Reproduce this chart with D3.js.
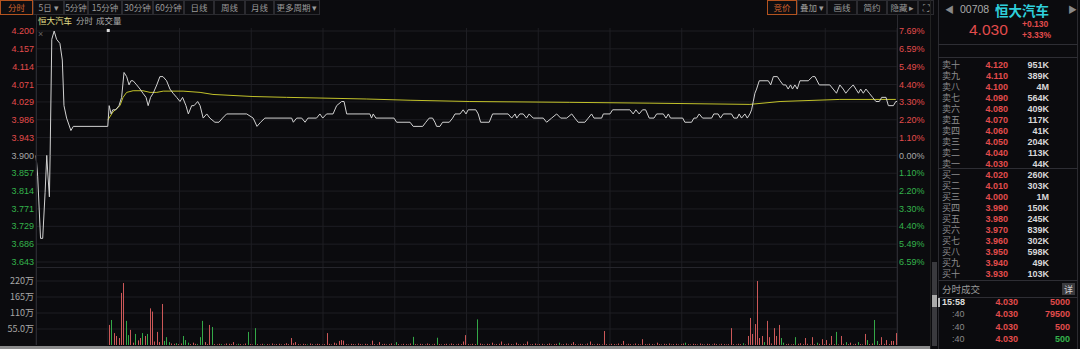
<!DOCTYPE html>
<html>
<head>
<meta charset="utf-8">
<script src="https://cdn.jsdelivr.net/npm/d3@7"></script>
<style>
  body { margin: 0; background: #0b0b0e; overflow: hidden; }
  text { font-family: "Liberation Sans", "Noto Sans CJK SC", sans-serif; }
  .cjk { font-family: "Noto Sans CJK SC", sans-serif; }
</style>
</head>
<body>
<script>
// ---- data ----
const prevClose = 3.900;
const priceTicks = [4.200, 4.157, 4.114, 4.071, 4.029, 3.986, 3.943, 3.900, 3.857, 3.814, 3.771, 3.729, 3.686, 3.643];
const pctLabels = ["7.69%","6.59%","5.49%","4.40%","3.30%","2.20%","1.10%","0.00%","1.10%","2.20%","3.30%","4.40%","5.49%","6.59%"];
const volTicks = [55, 110, 165, 220];
const volLabels = ["55.0万","110万","165万","220万"];

// price line vertices: [minute since 09:00 (lunch removed), price]
const priceLine = [
  [0,3.90],[0.7,3.85],[1.9,3.70],[2.8,3.70],[3.8,3.81],[4.5,3.90],[4.9,3.86],[5.6,3.80],[5.9,3.90],
  [6.6,4.18],[7.6,4.20],[8.6,4.18],[10,4.17],[11,4.13],[11.7,4.02],[12.8,3.99],[14.6,3.96],[15.6,3.97],
  [30,3.97],[30.6,4.02],[31.4,4.00],[32.1,4.01],[33.4,4.01],[34.7,4.02],[35.8,4.04],[36.8,4.10],[37.9,4.09],
  [38.9,4.07],[39.7,4.08],[40.6,4.08],[42.1,4.07],[43.5,4.06],[44.7,4.05],[46,4.04],[46.9,4.02],[47.9,4.04],
  [49,4.05],[50.5,4.07],[51.8,4.09],[53.1,4.09],[54.6,4.08],[56,4.06],[57.3,4.05],[58.8,4.04],[60.2,4.03],
  [61.3,4.04],[62.7,4.02],[63.7,4.00],[65.1,4.02],[66.1,4.02],[67.6,4.03],[68.6,4.02],[69.9,3.99],[71.4,4.00],
  [72.7,3.99],[74.8,3.98],[76.5,3.98],[78,3.99],[79.7,4.00],[88.1,4.00],[90.8,3.99],[92.4,3.97],[93.9,3.98],
  [95.7,3.99],[106.9,3.99],[107.6,3.98],[109,3.99],[111.1,3.99],[112.5,3.98],[113.7,3.99],[117.3,3.99],
  [118.7,4.00],[119.9,3.99],[121.5,4.00],[124.2,4.00],[125.7,4.02],[127.8,4.03],[128.8,4.03],[129.9,4.00],
  [139.6,4.00],[140.3,3.99],[141,4.00],[142.1,3.99],[149.7,3.99],[150.8,3.98],[156.4,3.98],[157.7,3.97],
  [161.7,3.97],[163,3.98],[164.4,3.99],[165.8,3.99],[166.8,3.98],[167.5,3.97],[168.9,3.97],[170,3.98],
  [172.8,3.98],[174.2,3.99],[175.2,4.00],[177.3,4.00],[178.6,4.01],[179.8,4.00],[180.7,4.01],[183.9,4.01],
  [184.9,4.00],[185.9,3.98],[189.5,3.98],[190.9,4.00],[197.4,4.00],[198.9,3.99],[200.3,4.00],[201,3.99],
  [202.3,4.00],[203.7,4.00],[205.1,3.99],[206.2,4.00],[207.9,3.99],[212.1,3.99],[213.5,3.98],[215.6,3.99],
  [217.7,4.00],[219.4,3.99],[221.9,3.99],[224,4.00],[225.3,3.99],[226.7,3.98],[229.5,3.98],[230.9,3.99],
  [232.3,4.00],[233.3,3.99],[236.5,3.99],[237.2,4.00],[240,4.00],[241.1,4.01],[248.3,4.01],[249.7,4.00],
  [250.8,4.01],[252.2,4.00],[253.6,4.01],[254.9,4.01],[256.4,3.99],[258.4,3.99],[259.5,4.00],[262.3,4.00],
  [263.4,3.99],[264.4,4.00],[265.3,3.99],[270.4,3.99],[271.3,3.98],[274.1,3.98],[275.1,3.99],[276.2,3.99],
  [277.3,4.00],[278.7,3.99],[282.5,3.99],[283.4,4.00],[285.2,4.00],[286.2,3.99],[287.4,4.00],[290.8,4.00],
  [291.8,3.99],[293.2,3.99],[294,4.00],[295,3.99],[296.4,4.00],[297.4,3.99],[298.5,4.00],[299.2,4.01],
  [299.9,4.03],[300.6,4.05],[301.3,4.06],[302.4,4.08],[306.2,4.08],[307.2,4.07],[308.3,4.09],[310,4.09],
  [311.1,4.08],[312.4,4.07],[313.5,4.07],[314.5,4.06],[315.5,4.07],[316.3,4.06],[317.3,4.07],[318.3,4.06],
  [319.4,4.08],[322.9,4.08],[324.7,4.09],[325.7,4.09],[327.5,4.07],[331.9,4.07],[333.3,4.06],[334.7,4.05],
  [336.1,4.07],[337.5,4.06],[338.6,4.05],[340,4.06],[341.7,4.07],[342.8,4.06],[343.9,4.05],[344.8,4.06],
  [345.9,4.05],[347,4.06],[348.4,4.05],[349.8,4.04],[351.2,4.03],[352.6,4.03],[353.6,4.04],[355.4,4.04],
  [356.4,4.02],[358.5,4.02],[359.5,4.03],[360,4.03]
];

// average price line vertices
const avgLine = [
  [30,3.985],[32.2,4.005],[35.1,4.02],[36.4,4.04],[37.9,4.052],[40.6,4.056],[44.7,4.056],[47.7,4.052],
  [50.5,4.052],[53.2,4.055],[61.5,4.055],[68.6,4.052],[74,4.047],[90.7,4.042],[104.8,4.04],[138.3,4.036],
  [156.4,4.033],[181.4,4.03],[223.2,4.028],[256.7,4.026],[298.5,4.023],[311.1,4.03],[336.1,4.035],[359.5,4.035]
];

// volume per minute from 09:30, in 万 shares; negative = down minute (green)
const volumes = [
  69,-86,41,31,24,179,213,-83,-34,52,
  8,-38,16,24,-41,31,-38,126,115,12,
  45,10,141,-14,-27,-10,5,4,-6,3,
  5,-31,-17,-8,3,8,4,-3,-27,-83,
  10,3,69,-62,3,2,4,-3,2,5,
  4,3,10,2,-4,3,2,5,-45,3,
  2,-58,3,2,4,-2,3,2,5,2,
  3,4,2,3,6,3,24,6,10,3,
  2,4,3,-2,5,3,2,4,3,2,
  3,41,4,2,8,5,14,17,15,3,
  2,4,3,2,5,3,2,4,3,2,
  15,3,2,10,3,4,2,3,5,2,
  -10,3,2,4,3,2,5,-28,3,2,
  4,3,2,5,3,2,4,-25,3,2,
  3,4,2,5,3,2,4,3,12,34,
  3,2,4,3,-88,5,3,2,4,3,
  8,2,3,4,12,3,2,5,3,2,
  8,3,2,4,3,12,2,3,5,2,
  3,4,2,3,5,2,3,4,-8,2,
  3,5,2,4,10,3,2,4,3,2,
  5,12,3,2,4,3,2,48,3,2,
  4,3,2,5,3,14,2,4,3,2,
  5,3,2,20,3,2,4,3,2,8,
  3,2,4,3,5,2,3,4,2,3,
  5,-8,3,2,4,3,2,5,3,2,
  4,3,2,5,3,2,4,3,2,3,
  58,3,2,4,3,-6,2,31,93,38,
  72,220,24,31,-10,83,27,5,58,31,
  69,-24,-8,3,4,2,3,-27,4,6,
  3,24,4,2,27,3,-8,4,20,3,
  17,4,31,3,-45,2,31,4,-10,3,
  8,2,4,-10,3,2,38,-17,3,5,
  -86,-14,3,27,4,17,3,14,14,41
];

const periods = ["分时","5日 ▾","5分钟","15分钟","30分钟","60分钟","日线","周线","月线","更多周期 ▾"];
const periodEdges = [0,33,64,88,122,153,184,214,245,274,320];
const tools = ["竞价","叠加 ▾","画线","简约","隐藏 ▸","⛶"];
const toolEdges = [767,797,827,857,887,918,934];

const stock = { code: "00708", name: "恒大汽车", last: "4.030", chg: "+0.130", pct: "+3.33%" };
const askLabels = ["卖十","卖九","卖八","卖七","卖六","卖五","卖四","卖三","卖二","卖一"];
const askPrices = ["4.120","4.110","4.100","4.090","4.080","4.070","4.060","4.050","4.040","4.030"];
const askVols = ["951K","389K","4M","564K","409K","117K","41K","204K","113K","44K"];
const bidLabels = ["买一","买二","买三","买四","买五","买六","买七","买八","买九","买十"];
const bidPrices = ["4.020","4.010","4.000","3.990","3.980","3.970","3.960","3.950","3.940","3.930"];
const bidVols = ["260K","303K","1M","150K","245K","839K","302K","598K","49K","103K"];
const tradeTimes = ["15:58",":40",":40",":40"];
const tradePrices = ["4.030","4.030","4.030","4.030"];
const tradeVols = ["5000","79500","500","500"];
const tradeSides = ["up","up","up","down"];

// ---- colours ----
const BG = "#0b0b0e", GRID = "#1e1e23", RED = "#e24c4c", GREEN = "#34b34c", GRAY = "#a8a8a8";

const svg = d3.select("body").append("svg").attr("width", 1080).attr("height", 349);
svg.append("rect").attr("width", 1080).attr("height", 349).attr("fill", BG);

const x = d3.scaleLinear().domain([0, 360]).range([36, 897]);
const y = d3.scaleLinear().domain([3.643, 4.200]).range([262, 31]);
const yv = d3.scaleLinear().domain([0, 220]).range([345, 281]);

// grid
const grid = svg.append("g");
grid.selectAll("line.h").data(priceTicks).join("line")
  .attr("x1", 36).attr("x2", 897).attr("y1", d => y(d)).attr("y2", d => y(d))
  .attr("stroke", GRID);
grid.selectAll("line.v").data(d3.range(0, 361, 30)).join("line").attr("class", "v")
  .attr("x1", d => x(d)).attr("x2", d => x(d)).attr("y1", 28).attr("y2", 345)
  .attr("stroke", GRID);
grid.selectAll("line.vh").data(volTicks).join("line").attr("class", "vh")
  .attr("x1", 36).attr("x2", 897).attr("y1", d => yv(d)).attr("y2", d => yv(d))
  .attr("stroke", GRID);
svg.append("line").attr("x1", 36).attr("x2", 897).attr("y1", 267.5).attr("y2", 267.5).attr("stroke", "#26262c");

// left price labels
svg.append("g").selectAll("text").data(priceTicks).join("text")
  .attr("x", 34).attr("y", d => y(d)).attr("dy", "0.35em")
  .attr("text-anchor", "end").attr("font-size", 9)
  .attr("fill", d => Math.abs(d - prevClose) < 1e-6 ? GRAY : (d > prevClose ? RED : GREEN))
  .text(d => d.toFixed(3));

// right percent labels
svg.append("g").selectAll("text").data(priceTicks).join("text")
  .attr("x", 899).attr("y", d => y(d)).attr("dy", "0.35em")
  .attr("font-size", 9)
  .attr("fill", d => Math.abs(d - prevClose) < 1e-6 ? GRAY : (d > prevClose ? RED : GREEN))
  .text((d, i) => pctLabels[i]);

// volume labels
svg.append("g").selectAll("text").data(volTicks).join("text")
  .attr("x", 34).attr("y", d => yv(d)).attr("dy", "0.35em")
  .attr("text-anchor", "end").attr("font-size", 9).attr("fill", GRAY)
  .attr("class", "cjk")
  .text((d, i) => volLabels[i]);

// volume bars
svg.append("g").selectAll("rect").data(volumes).join("rect")
  .attr("x", (d, i) => Math.round(x(30 + i + 0.5)))
  .attr("width", 1)
  .attr("y", d => yv(Math.abs(d)))
  .attr("height", d => yv(0) - yv(Math.abs(d)))
  .attr("fill", d => d < 0 ? "#33a847" : "#cc5858");

// lines
const line = d3.line().x(d => x(d[0])).y(d => y(d[1]));
svg.append("path").datum(avgLine).attr("d", line)
  .attr("fill", "none").attr("stroke", "#c2c22a").attr("stroke-width", 1);
svg.append("path").datum(priceLine).attr("d", line)
  .attr("fill", "none").attr("stroke", "#d2d2d2").attr("stroke-width", 1);

// frame
svg.append("line").attr("x1", 36.5).attr("x2", 36.5).attr("y1", 15).attr("y2", 345).attr("stroke", "#2a2a30");
svg.append("line").attr("x1", 897.5).attr("x2", 897.5).attr("y1", 15).attr("y2", 345).attr("stroke", "#2a2a30");

// legend row
svg.append("text").attr("class", "cjk").attr("x", 38).attr("y", 24).attr("font-size", 8.5).attr("fill", "#e6e08a").text(stock.name);
svg.append("text").attr("class", "cjk").attr("x", 76).attr("y", 24).attr("font-size", 8.5).attr("fill", GRAY).text("分时");
svg.append("text").attr("class", "cjk").attr("x", 96).attr("y", 24).attr("font-size", 8.5).attr("fill", GRAY).text("成交量");
svg.append("rect").attr("x", x(30) - 1).attr("y", 29).attr("width", 3).attr("height", 3).attr("fill", "#ddd");
svg.append("text").attr("x", 38).attr("y", 37).attr("font-size", 9).attr("fill", "#666").text("×");

// top toolbar
const tb = svg.append("g");
function buttons(labels, edges) {
  labels.forEach((p, i) => {
    const x0 = edges[i], x1 = edges[i + 1];
    tb.append("rect").attr("x", x0 + 0.5).attr("y", 0.5).attr("width", x1 - x0 - 1).attr("height", 14)
      .attr("fill", "#0e0e11").attr("stroke", i === 0 ? "#b4531f" : "#2b2b30");
    tb.append("text").attr("class", "cjk").attr("x", (x0 + x1) / 2).attr("y", 10.5)
      .attr("text-anchor", "middle").attr("font-size", 8.5)
      .attr("fill", i === 0 ? "#d2622c" : "#9a9a9a").text(p);
  });
}
buttons(periods, periodEdges);
buttons(tools, toolEdges);

// bottom strip and scrollbar
svg.append("rect").attr("x", 0).attr("y", 346).attr("width", 930).attr("height", 3).attr("fill", "#8c8c8c");
svg.append("line").attr("x1", 930.5).attr("x2", 930.5).attr("y1", 0).attr("y2", 349).attr("stroke", "#222");
svg.append("rect").attr("x", 932).attr("y", 262).attr("width", 5).attr("height", 84).attr("fill", "#3a3a3e");
svg.append("rect").attr("x", 932).attr("y", 295).attr("width", 5).attr("height", 12).attr("fill", "#aaa");

// ---- right panel ----
const rp = svg.append("g");
rp.append("line").attr("x1", 938.5).attr("x2", 938.5).attr("y1", 0).attr("y2", 349).attr("stroke", "#2b2b30");
rp.append("line").attr("x1", 1077.5).attr("x2", 1077.5).attr("y1", 0).attr("y2", 349).attr("stroke", "#2b2b30");
[44.5, 57.5, 168.5, 280.5, 297.5].forEach(v =>
  rp.append("line").attr("x1", 938).attr("x2", 1078).attr("y1", v).attr("y2", v).attr("stroke", "#2e2e34"));

rp.append("text").attr("x", 945).attr("y", 13).attr("font-size", 9).attr("fill", "#888").text("◀");
rp.append("text").attr("x", 1068).attr("y", 13).attr("font-size", 9).attr("fill", "#888").text("▶");
rp.append("text").attr("x", 960).attr("y", 13).attr("font-size", 10.5).attr("fill", "#aaa").text(stock.code);
rp.append("text").attr("class", "cjk").attr("x", 995).attr("y", 15.5).attr("font-size", 13.5)
  .attr("font-weight", "bold").attr("fill", "#2fd0dc").text(stock.name);
rp.append("text").attr("x", 969).attr("y", 35).attr("font-size", 15.5).attr("fill", RED).text(stock.last);
rp.append("text").attr("x", 1022).attr("y", 27).attr("font-size", 8.5).attr("font-weight", "bold").attr("fill", RED).text(stock.chg);
rp.append("text").attr("x", 1022).attr("y", 37.5).attr("font-size", 8.5).attr("font-weight", "bold").attr("fill", RED).text(stock.pct);

const rowAsk = d3.scalePoint().domain(askLabels).range([65, 163.5]);
const rowBid = d3.scalePoint().domain(bidLabels).range([175, 273.5]);
function bookRows(labels, prices, vols, row) {
  const g = rp.append("g");
  labels.forEach((l, i) => {
    const yy = row(l);
    g.append("text").attr("class", "cjk").attr("x", 942).attr("y", yy).attr("dy", "0.35em")
      .attr("font-size", 9).attr("fill", "#8e8e8e").text(l);
    g.append("text").attr("x", 1008).attr("y", yy).attr("dy", "0.35em").attr("text-anchor", "end")
      .attr("font-size", 9).attr("font-weight", "bold")
      .attr("fill", +prices[i] > prevClose ? RED : (+prices[i] < prevClose ? GREEN : GRAY)).text(prices[i]);
    g.append("text").attr("x", 1049).attr("y", yy).attr("dy", "0.35em").attr("text-anchor", "end")
      .attr("font-size", 9).attr("font-weight", "bold").attr("fill", "#d8d8d8").text(vols[i]);
  });
}
bookRows(askLabels, askPrices, askVols, rowAsk);
bookRows(bidLabels, bidPrices, bidVols, rowBid);

rp.append("text").attr("class", "cjk").attr("x", 942).attr("y", 292.5).attr("font-size", 9.5).attr("fill", "#9a9a9a").text("分时成交");
rp.append("rect").attr("x", 1062).attr("y", 283).attr("width", 13).attr("height", 12).attr("fill", "#3a3a3e");
rp.append("text").attr("class", "cjk").attr("x", 1068.5).attr("y", 292.5).attr("text-anchor", "middle")
  .attr("font-size", 9).attr("fill", "#ccc").text("详");
rp.append("rect").attr("x", 938).attr("y", 298).attr("width", 2).attr("height", 9).attr("fill", "#bbb");

const rowTrade = d3.scalePoint().domain(d3.range(tradeTimes.length)).range([302, 339]);
tradeTimes.forEach((t, i) => {
  const yy = rowTrade(i);
  rp.append("text").attr("x", i === 0 ? 942 : 952).attr("y", yy).attr("dy", "0.35em")
    .attr("font-size", 9).attr("font-weight", i === 0 ? "bold" : "normal")
    .attr("fill", i === 0 ? "#dcdcdc" : "#888").text(t);
  rp.append("text").attr("x", 1018).attr("y", yy).attr("dy", "0.35em").attr("text-anchor", "end")
    .attr("font-size", 9).attr("font-weight", "bold").attr("fill", RED).text(tradePrices[i]);
  rp.append("text").attr("x", 1070).attr("y", yy).attr("dy", "0.35em").attr("text-anchor", "end")
    .attr("font-size", 9).attr("font-weight", "bold")
    .attr("fill", tradeSides[i] === "up" ? RED : GREEN).text(tradeVols[i]);
});
</script>
</body>
</html>
